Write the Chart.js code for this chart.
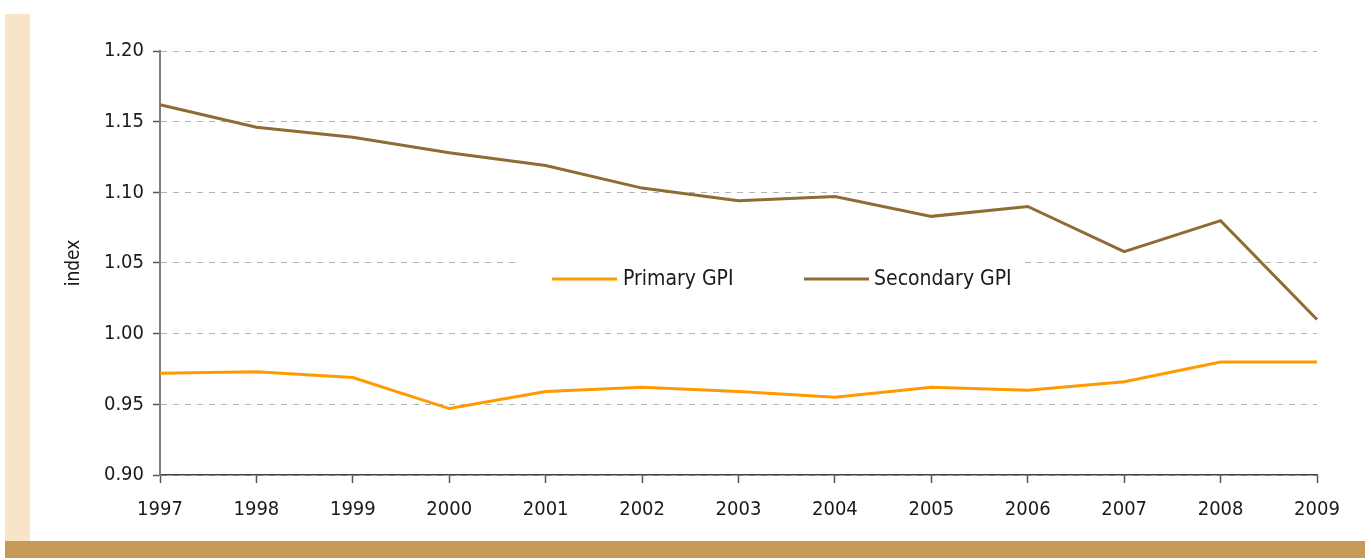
<!DOCTYPE html>
<html>
<head>
<meta charset="utf-8">
<script src="https://cdn.jsdelivr.net/npm/chart.js@4/dist/chart.umd.min.js"></script>
<style>
  html, body { margin: 0; padding: 0; background: #fff; }
  #page { position: relative; width: 1365px; height: 558px; overflow: hidden; }
  #strip { position: absolute; left: 5px; top: 14px; width: 25px; height: 527px; background: #f8e5c8; }
  #bar { position: absolute; left: 5px; top: 541px; width: 1360px; height: 17px; background: #c69a54; }
  #chart { position: absolute; left: 0; top: 0; }
</style>
</head>
<body>
<div id="page">
  <div id="strip"></div>
  <div id="bar"></div>
  <canvas id="chart" width="1365" height="558"></canvas>
</div>
<script>
const years = ['1997', '1998', '1999', '2000', '2001', '2002', '2003', '2004', '2005', '2006', '2007', '2008', '2009']
const primaryGPI = [0.972, 0.973, 0.969, 0.947, 0.959, 0.962, 0.959, 0.955, 0.962, 0.960, 0.966, 0.980, 0.980]
const secondaryGPI = [1.162, 1.146, 1.139, 1.128, 1.119, 1.103, 1.094, 1.097, 1.083, 1.090, 1.058, 1.080, 1.010]
const seriesNames = ['Primary GPI', 'Secondary GPI']
const seriesColors = ['#ff9a00', '#8e6c34']

const fontFamily = "'Liberation Sans Narrow', 'DejaVu Sans Condensed', sans-serif"

// legend sits inside the plot on a white patch, like the original
const innerLegend = {
    id: 'innerLegend',
    beforeDatasetsDraw(chart) {
        const ctx = chart.ctx
        ctx.save()
        ctx.fillStyle = '#fff'
        ctx.fillRect(515, 255, 510, 44)
        const items = [
            { lineX: 552, textX: 623 },
            { lineX: 804, textX: 874 }
        ]
        ctx.font = '21px ' + fontFamily
        ctx.textBaseline = 'middle'
        items.forEach((it, i) => {
            ctx.strokeStyle = seriesColors[i]
            ctx.lineWidth = 3
            ctx.beginPath()
            ctx.moveTo(it.lineX, 279)
            ctx.lineTo(it.lineX + 65, 279)
            ctx.stroke()
            ctx.fillStyle = '#1a1a1a'
            ctx.fillText(seriesNames[i], it.textX, 280)
        })
        ctx.restore()
    }
}

const ctx = document.getElementById('chart').getContext('2d')

new Chart(ctx, {
    type: 'line',
    data: {
        labels: years,
        datasets: [
            {
                label: seriesNames[0],
                data: primaryGPI,
                borderColor: seriesColors[0],
                borderWidth: 3,
                pointRadius: 0,
                tension: 0
            },
            {
                label: seriesNames[1],
                data: secondaryGPI,
                borderColor: seriesColors[1],
                borderWidth: 3,
                pointRadius: 0,
                tension: 0
            }
        ]
    },
    options: {
        responsive: false,
        animation: false,
        layout: { padding: { left: 0, top: 51, right: 48, bottom: 0 } },
        plugins: {
            legend: { display: false },
            tooltip: { enabled: false }
        },
        scales: {
            x: {
                offset: false,
                grid: { drawOnChartArea: false, drawTicks: true, tickLength: 8, tickColor: '#555', tickWidth: 1.5 },
                border: { display: true, color: '#444', width: 1.5 },
                ticks: { color: '#1a1a1a', padding: 15, maxRotation: 0, font: { family: fontFamily, size: 20 } },
                afterFit(scale) { scale.height = 83 }
            },
            y: {
                min: 0.9,
                max: 1.2,
                grid: { color: '#b3b3b3', lineWidth: 1, drawTicks: true, tickLength: 7, tickColor: '#555', tickWidth: 1.5 },
                border: { display: true, color: '#7f7f7f', width: 2, dash: [6, 6] },
                ticks: {
                    stepSize: 0.05,
                    color: '#1a1a1a',
                    padding: 9,
                    font: { family: fontFamily, size: 20 },
                    callback: v => v.toFixed(2)
                },
                title: {
                    display: true,
                    text: 'index',
                    color: '#1a1a1a',
                    font: { family: fontFamily, size: 19 },
                    padding: { top: 63, bottom: 0 }
                },
                afterFit(scale) { scale.width = 160 }
            }
        }
    },
    plugins: [innerLegend]
})
</script>
</body>
</html>
